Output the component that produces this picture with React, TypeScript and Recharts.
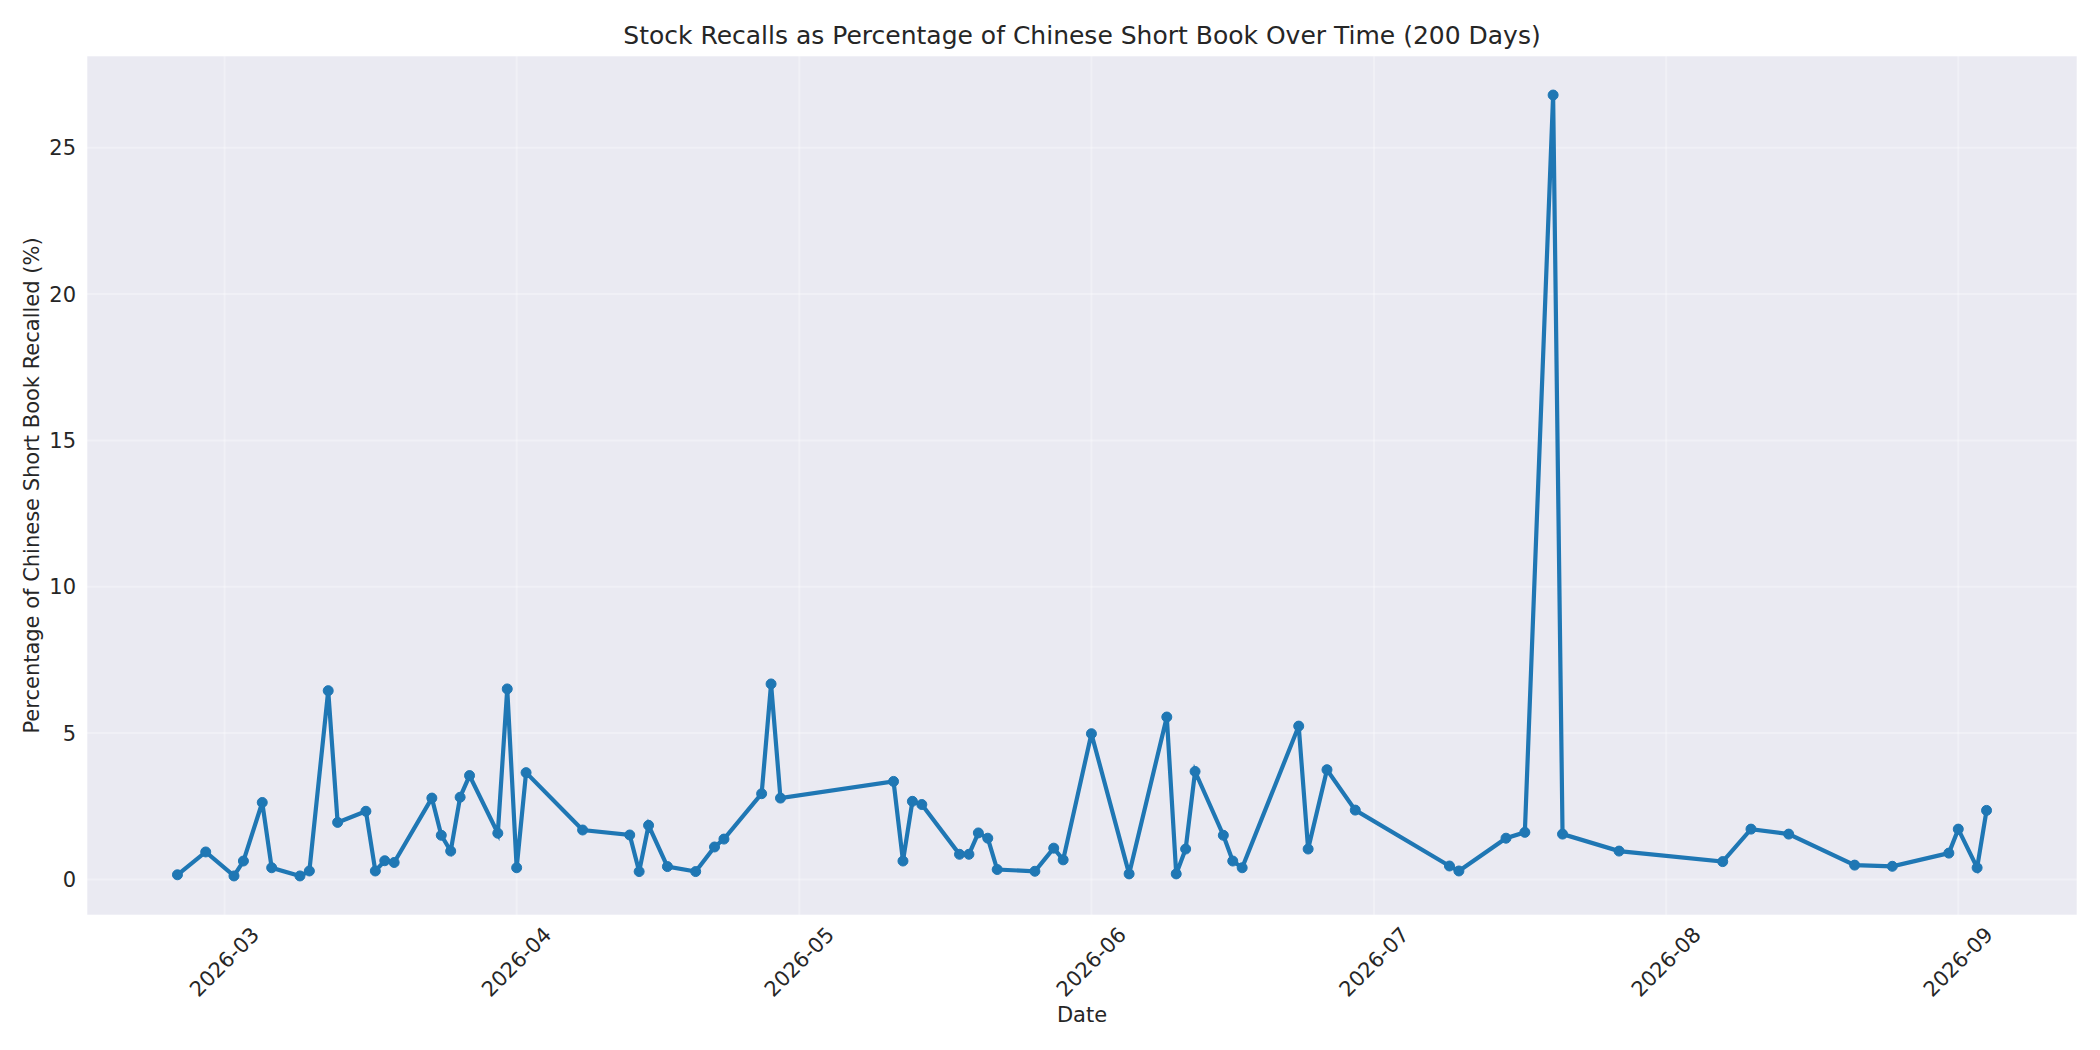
/**
 * Stock recalls chart
 *
 * Daily recall share of the Chinese short book, drawn with Recharts.
 * Styled after the seaborn darkgrid look.
 */

import { CartesianGrid, Label, Line, LineChart, XAxis, YAxis } from 'recharts';

const recallDates: string[] = [
  '2026-02-24', '2026-02-27', '2026-03-02', '2026-03-03', '2026-03-05', '2026-03-06',
  '2026-03-09', '2026-03-10', '2026-03-12', '2026-03-13', '2026-03-16', '2026-03-17',
  '2026-03-18', '2026-03-19', '2026-03-23', '2026-03-24', '2026-03-25', '2026-03-26',
  '2026-03-27', '2026-03-30', '2026-03-31', '2026-04-01', '2026-04-02', '2026-04-08',
  '2026-04-13', '2026-04-14', '2026-04-15', '2026-04-17', '2026-04-20', '2026-04-22',
  '2026-04-23', '2026-04-27', '2026-04-28', '2026-04-29', '2026-05-11', '2026-05-12',
  '2026-05-13', '2026-05-14', '2026-05-18', '2026-05-19', '2026-05-20', '2026-05-21',
  '2026-05-22', '2026-05-26', '2026-05-28', '2026-05-29', '2026-06-01', '2026-06-05',
  '2026-06-09', '2026-06-10', '2026-06-11', '2026-06-12', '2026-06-15', '2026-06-16',
  '2026-06-17', '2026-06-23', '2026-06-24', '2026-06-26', '2026-06-29', '2026-07-09',
  '2026-07-10', '2026-07-15', '2026-07-17', '2026-07-20', '2026-07-21', '2026-07-27',
  '2026-08-07', '2026-08-10', '2026-08-14', '2026-08-21', '2026-08-25', '2026-08-31',
  '2026-09-01', '2026-09-03', '2026-09-04',
];

const recallPct: number[] = [
  0.16, 0.94, 0.12, 0.63, 2.63, 0.4,
  0.12, 0.29, 6.45, 1.95, 2.33, 0.29,
  0.64, 0.58, 2.78, 1.51, 0.97, 2.81,
  3.55, 1.58, 6.51, 0.4, 3.65, 1.69,
  1.52, 0.27, 1.85, 0.44, 0.27, 1.11,
  1.38, 2.93, 6.68, 2.78, 3.35, 0.63,
  2.67, 2.56, 0.86, 0.86, 1.59, 1.41,
  0.34, 0.28, 1.07, 0.67, 4.98, 0.19,
  5.55, 0.19, 1.04, 3.69, 1.51, 0.63,
  0.4, 5.24, 1.04, 3.75, 2.37, 0.46,
  0.29, 1.41, 1.61, 26.8, 1.55, 0.97,
  0.61, 1.72, 1.55, 0.49, 0.45, 0.9,
  1.72, 0.4, 2.36,
];

const monthTicks: string[] = [
  '2026-03-01', '2026-04-01', '2026-05-01', '2026-06-01',
  '2026-07-01', '2026-08-01', '2026-09-01',
];

const pctTicks: number[] = [0, 5, 10, 15, 20, 25];

const TITLE = 'Stock Recalls as Percentage of Chinese Short Book Over Time (200 Days)';
const X_LABEL = 'Date';
const Y_LABEL = 'Percentage of Chinese Short Book Recalled (%)';

const FONT = '"DejaVu Sans", sans-serif';
const TEXT_COLOR = '#262626';
const LINE_COLOR = '#1f77b4';

const toTime = (d: string) => Date.parse(`${d}T00:00:00Z`);

const chartData = recallDates.map((d, i) => ({ t: toTime(d), pct: recallPct[i] }));

// matplotlib-style 5% margins
const padDomain = (lo: number, hi: number): [number, number] => {
  const pad = (hi - lo) * 0.05;
  return [lo - pad, hi + pad];
};

const xDomain = padDomain(chartData[0].t, chartData[chartData.length - 1].t);
const yDomain = padDomain(Math.min(...recallPct), Math.max(...recallPct));

const formatMonth = (value: number) => {
  const d = new Date(value);
  return `${d.getUTCFullYear()}-${String(d.getUTCMonth() + 1).padStart(2, '0')}`;
};

interface TickProps {
  x: number;
  y: number;
  payload: { value: number };
}

function DateTick({ x, y, payload }: TickProps) {
  const bx = x + 36;
  const by = y + 21;
  return (
    <text
      x={bx}
      y={by}
      transform={`rotate(-45 ${bx} ${by})`}
      textAnchor="end"
      fontSize={21}
      fontFamily={FONT}
      fill={TEXT_COLOR}
    >
      {formatMonth(payload.value)}
    </text>
  );
}

export default function App() {
  return (
    <div
      style={{
        position: 'absolute',
        left: 0,
        top: 0,
        width: 2100,
        height: 1050,
        background: '#ffffff',
      }}
    >
      <div
        style={{
          position: 'absolute',
          left: 87,
          width: 1990,
          top: 23,
          textAlign: 'center',
          fontFamily: FONT,
          fontSize: 25,
          lineHeight: '25px',
          color: TEXT_COLOR,
        }}
      >
        {TITLE}
      </div>
      <LineChart
        width={2100}
        height={1050}
        data={chartData}
        margin={{ top: 56, right: 23, left: 0, bottom: 0 }}
      >
        <CartesianGrid
          fill="#EAEAF2"
          fillOpacity={1}
          stroke="#ffffff"
          strokeOpacity={0.3}
          strokeWidth={2}
        />
        <XAxis
          dataKey="t"
          type="number"
          scale="time"
          domain={xDomain}
          allowDataOverflow
          ticks={monthTicks.map(toTime)}
          height={135}
          axisLine={false}
          tickLine={false}
          tickSize={0}
          tickMargin={0}
          interval={0}
          tick={DateTick}
        >
          <Label
            content={() => (
              <text
                x={1082}
                y={1015}
                textAnchor="middle"
                dominantBaseline="central"
                fontSize={21}
                fontFamily={FONT}
                fill={TEXT_COLOR}
              >
                {X_LABEL}
              </text>
            )}
          />
        </XAxis>
        <YAxis
          type="number"
          domain={yDomain}
          allowDataOverflow
          ticks={pctTicks}
          width={87}
          axisLine={false}
          tickLine={false}
          tickSize={0}
          tickMargin={11}
          interval={0}
          tick={{ fontSize: 21, fontFamily: FONT, fill: TEXT_COLOR }}
        >
          <Label
            content={() => (
              <text
                x={32}
                y={485.5}
                transform="rotate(-90 32 485.5)"
                textAnchor="middle"
                dominantBaseline="central"
                fontSize={21}
                fontFamily={FONT}
                fill={TEXT_COLOR}
              >
                {Y_LABEL}
              </text>
            )}
          />
        </YAxis>
        <Line
          type="linear"
          dataKey="pct"
          stroke={LINE_COLOR}
          strokeWidth={4.2}
          dot={{ r: 5, fill: LINE_COLOR, stroke: LINE_COLOR, strokeWidth: 1 }}
          activeDot={false}
          isAnimationActive={false}
        />
      </LineChart>
    </div>
  );
}
